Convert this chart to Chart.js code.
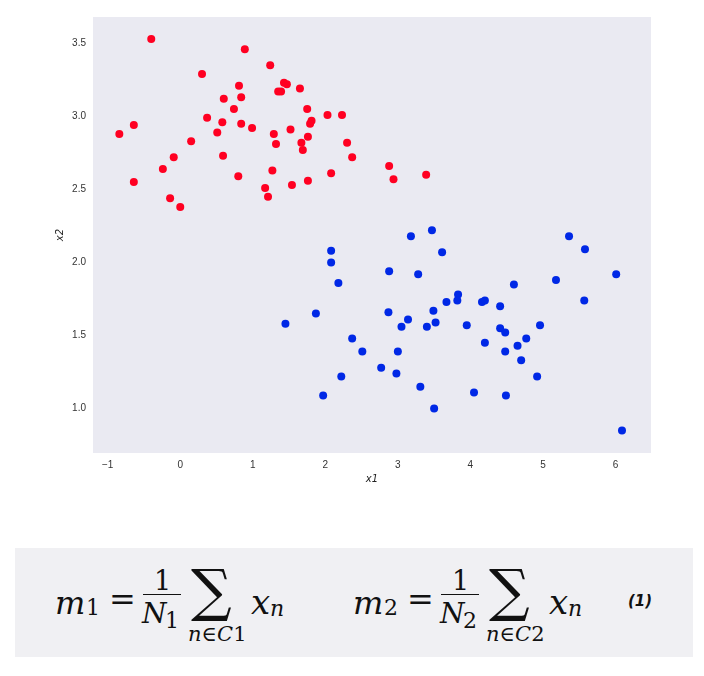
<!DOCTYPE html>
<html>
<head>
<meta charset="utf-8">
<script src="https://cdn.jsdelivr.net/npm/chart.js@4"></script>
<style>
  body { margin: 0; background: #fff; width: 704px; height: 676px; position: relative; overflow: hidden; }
  #wrap { position: absolute; left: 0; top: 0; width: 704px; height: 500px; }
  #eqbox { position: absolute; left: 15px; top: 548px; width: 678px; height: 109px; background: #f0f0f3; }
  .t { position: absolute; font-family: "DejaVu Serif", "Liberation Serif", serif; color: #111; white-space: nowrap; line-height: 1; }
  .i { font-style: italic; }
  .bar { position: absolute; height: 1.4px; background: #111; }
</style>
</head>
<body>
<div id="wrap"><canvas id="scatter"></canvas></div>
<div id="eqbox"></div>
<div id="eq"></div>
<script>
// class 1 (red) points
const x1Red = [-0.40, 0.89, 1.24, 0.30, 0.81, 1.43, 1.47, 1.35, 1.39, 0.60, 0.84, 0.74, 0.37, 0.58,
  0.84, 0.99, -0.64, -0.84, 0.51, 1.29, 1.32, 0.15, -0.09, 0.59, -0.24, 1.27, 0.80, -0.64, 1.17,
  1.21, -0.14, 0.00, 1.65, 1.75, 2.03, 2.23, 1.81, 1.79, 1.52, 1.67, 1.76, 1.69, 2.30, 2.37, 2.88,
  2.94, 3.39, 2.08, 1.54, 1.76];
const x2Red = [3.53, 3.46, 3.35, 3.29, 3.21, 3.23, 3.22, 3.17, 3.17, 3.12, 3.13, 3.05, 2.99, 2.96,
  2.95, 2.92, 2.94, 2.88, 2.89, 2.88, 2.81, 2.83, 2.72, 2.73, 2.64, 2.63, 2.59, 2.55, 2.51,
  2.45, 2.44, 2.38, 3.19, 3.05, 3.01, 3.01, 2.97, 2.95, 2.91, 2.82, 2.86, 2.77, 2.82, 2.72, 2.66,
  2.57, 2.60, 2.61, 2.53, 2.56];

// class 2 (blue) points
const x1Blue = [3.18, 3.47, 3.61, 2.08, 2.08, 2.88, 3.28, 2.18, 3.83, 3.82, 3.67, 3.49, 1.87, 2.87,
  1.45, 3.14, 3.05, 3.40, 3.52, 3.95, 2.37, 2.51, 3.00, 2.77, 2.98, 2.22, 3.31, 1.97, 3.50,
  5.36, 5.58, 6.01, 5.18, 4.60, 5.57, 4.16, 4.20, 4.41, 4.96, 4.41, 4.48, 4.20, 4.77, 4.65, 4.48,
  4.70, 4.92, 4.05, 4.49, 6.09];
const x2Blue = [2.18, 2.22, 2.07, 2.08, 2.00, 1.94, 1.92, 1.86, 1.78, 1.74, 1.73, 1.67, 1.65, 1.66,
  1.58, 1.61, 1.56, 1.56, 1.59, 1.57, 1.48, 1.39, 1.39, 1.28, 1.24, 1.22, 1.15, 1.09, 1.00,
  2.18, 2.09, 1.92, 1.88, 1.85, 1.74, 1.73, 1.74, 1.70, 1.57, 1.55, 1.52, 1.45, 1.48, 1.43, 1.39,
  1.33, 1.22, 1.11, 1.09, 0.85];

const xTicks = [-1, 0, 1, 2, 3, 4, 5, 6];
const xTickLabels = ['\u22121', '0', '1', '2', '3', '4', '5', '6'];
const yTicks = [1.0, 1.5, 2.0, 2.5, 3.0, 3.5];
const yTickLabels = ['1.0', '1.5', '2.0', '2.5', '3.0', '3.5'];

const toPoints = (xs, ys) => xs.map((x, i) => ({ x: x, y: ys[i] }));

const panelBg = {
  id: 'panelBg',
  beforeDraw(chart) {
    const a = chart.chartArea;
    chart.ctx.save();
    chart.ctx.fillStyle = '#eaeaf2';
    chart.ctx.fillRect(a.left, a.top, a.right - a.left, a.bottom - a.top);
    chart.ctx.restore();
  }
};

const tickFont = { family: 'Liberation Sans', size: 10 };

new Chart(document.getElementById('scatter').getContext('2d'), {
  type: 'scatter',
  data: {
    datasets: [{
      data: toPoints(x1Red, x2Red),
      backgroundColor: '#ff0022',
      borderWidth: 0,
      pointRadius: 4
    }, {
      data: toPoints(x1Blue, x2Blue),
      backgroundColor: '#0028e6',
      borderWidth: 0,
      pointRadius: 4
    }]
  },
  options: {
    responsive: true,
    maintainAspectRatio: false,
    animation: false,
    layout: { padding: { top: 17, right: 53, left: 0, bottom: 0 } },
    plugins: { legend: { display: false }, tooltip: { enabled: false } },
    scales: {
      x: {
        type: 'linear',
        min: -1.203,
        max: 6.49,
        grid: { display: false, drawTicks: false },
        border: { display: false },
        afterBuildTicks: s => { s.ticks = xTicks.map(v => ({ value: v })); },
        afterFit: s => { s.height = 47; },
        ticks: {
          padding: 6,
          color: '#333',
          font: tickFont,
          maxRotation: 0,
          callback: (v) => xTickLabels[xTicks.indexOf(v)]
        },
        title: {
          display: true,
          text: 'x1',
          color: '#222',
          font: { family: 'DejaVu Sans', size: 10, style: 'italic' },
          padding: { top: 0, bottom: 15 }
        }
      },
      y: {
        type: 'linear',
        min: 0.696,
        max: 3.68,
        grid: { display: false, drawTicks: false },
        border: { display: false },
        afterBuildTicks: s => { s.ticks = yTicks.map(v => ({ value: v })); },
        afterFit: s => { s.width = 93; },
        ticks: {
          padding: 7,
          color: '#333',
          font: tickFont,
          callback: (v) => yTickLabels[yTicks.indexOf(v)]
        },
        title: {
          display: true,
          text: 'x2',
          color: '#222',
          font: { family: 'DejaVu Sans', size: 10, style: 'italic' },
          padding: { top: 54, bottom: 0 }
        }
      }
    }
  },
  plugins: [panelBg]
});

// equation below the chart
const eq = document.getElementById('eq');
function put(html, left, top, size, cls) {
  const s = document.createElement('span');
  s.className = 't ' + (cls || '');
  s.style.left = left + 'px';
  s.style.top = top + 'px';
  s.style.fontSize = size + 'px';
  s.innerHTML = html;
  eq.appendChild(s);
  return s;
}
function bar(left, top, width) {
  const b = document.createElement('div');
  b.className = 'bar';
  b.style.left = left + 'px';
  b.style.top = top + 'px';
  b.style.width = width + 'px';
  eq.appendChild(b);
}
function block(x0, idx) {
  put('m', x0, 587, 32, 'i');
  put(idx, x0 + 31, 597, 22);
  put('=', x0 + 54, 583, 32);
  put('1', x0 + 99, 567, 27);
  bar(x0 + 88, 594, 38);
  put('N', x0 + 87, 600, 28, 'i');
  put(idx, x0 + 110, 610, 22);
  put('\u2211', x0 + 136, 562, 57);
  put('<i>n</i>\u2208<i>C</i>' + idx, x0 + 133, 624, 21);
  put('x', x0 + 196, 585, 34, 'i');
  put('n', x0 + 215, 598, 22, 'i');
}
block(55, '1');
block(353, '2');
const num = put('<b><i>(1)</i></b>', 628, 594, 15);
num.style.fontFamily = 'DejaVu Sans';
</script>
</body>
</html>
